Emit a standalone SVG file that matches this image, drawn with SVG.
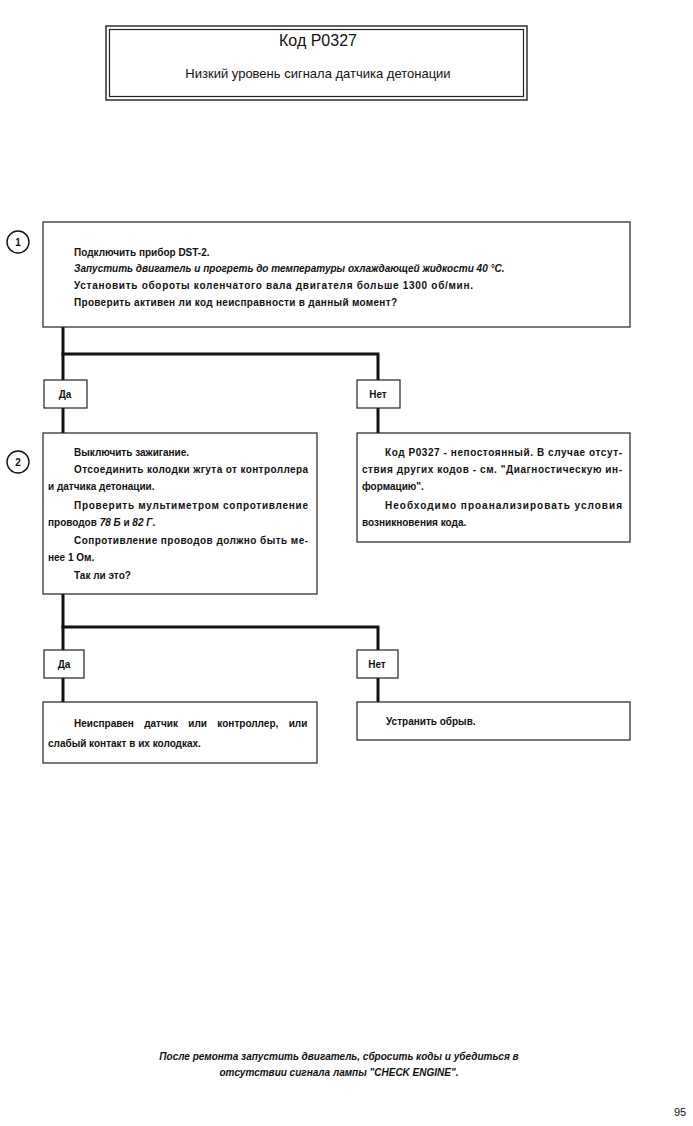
<svg xmlns="http://www.w3.org/2000/svg" width="693" height="1126" viewBox="0 0 693 1126">
<style>
.box{fill:#fff;stroke:#222;stroke-width:1.2}
.lbl{fill:#fff;stroke:#222;stroke-width:1.2}
.t{font-family:"Liberation Sans",Arial,sans-serif;font-size:10px;font-weight:bold;fill:#111}
.i{font-style:italic}
.c{text-anchor:middle}
.con{fill:none;stroke:#111;stroke-width:3;stroke-linecap:square}
.num{fill:#fff;stroke:#111;stroke-width:1.4}
</style>
<rect width="693" height="1126" fill="#fff"/>

<g id="title">
<rect x="106" y="26" width="421" height="74" fill="none" stroke="#222" stroke-width="1.4"/>
<rect x="109.5" y="29.5" width="414" height="67" fill="none" stroke="#222" stroke-width="1.2"/>
<text x="318" y="46" class="c" font-family="Liberation Sans,Arial,sans-serif" font-size="16" fill="#111">Код P0327</text>
<text x="318" y="78" class="c" font-family="Liberation Sans,Arial,sans-serif" font-size="13" fill="#111">Низкий уровень сигнала датчика детонации</text>
</g>

<g id="connectors">
<polyline class="con" points="63,328 63,380"/>
<polyline class="con" points="63,354 378,354 378,380"/>
<polyline class="con" points="63,408 63,433"/>
<polyline class="con" points="378,408 378,433"/>
<polyline class="con" points="63,595 63,650"/>
<polyline class="con" points="63,627 378,627 378,650"/>
<polyline class="con" points="63,678 63,702"/>
<polyline class="con" points="378,678 378,702"/>
</g>

<g id="step1">
<circle class="num" cx="18" cy="242" r="11"/>
<text x="18" y="246" class="t c">1</text>
</g>
<g id="box1">
<rect class="box" x="43" y="222" width="587" height="105"/>
<text x="74" y="256" class="t">Подключить прибор DST-2.</text>
<text x="74" y="272" class="t i">Запустить двигатель и прогреть до температуры охлаждающей жидкости 40 °C.</text>
<text x="74" y="289" class="t" textLength="399" lengthAdjust="spacing">Установить обороты коленчатого вала двигателя больше 1300 об/мин.</text>
<text x="74" y="306" class="t" textLength="323" lengthAdjust="spacing">Проверить активен ли код неисправности в данный момент?</text>
</g>

<g id="yes1">
<rect class="lbl" x="44" y="380" width="43" height="28"/>
<text x="65" y="398" class="t c">Да</text>
</g>
<g id="no1">
<rect class="lbl" x="357" y="380" width="43" height="28"/>
<text x="378" y="398" class="t c">Нет</text>
</g>

<g id="step2">
<circle class="num" cx="18" cy="462" r="11"/>
<text x="18" y="466" class="t c">2</text>
</g>
<g id="box2">
<rect class="box" x="43" y="433" width="274" height="161"/>
<text x="74" y="456" class="t">Выключить зажигание.</text>
<text x="74" y="473" class="t" textLength="234" lengthAdjust="spacing">Отсоединить колодки жгута от контроллера</text>
<text x="48" y="490" class="t">и датчика детонации.</text>
<text x="74" y="509" class="t" textLength="234" lengthAdjust="spacing">Проверить мультиметром сопротивление</text>
<text x="48" y="526" class="t">проводов <tspan class="i">78 Б</tspan> и <tspan class="i">82 Г</tspan>.</text>
<text x="74" y="544" class="t" textLength="234" lengthAdjust="spacing">Сопротивление проводов должно быть ме-</text>
<text x="48" y="561" class="t">нее 1 Ом.</text>
<text x="74" y="579" class="t">Так ли это?</text>
</g>

<g id="box3">
<rect class="box" x="357" y="433" width="273" height="109"/>
<text x="385" y="456" class="t" textLength="237" lengthAdjust="spacing">Код Р0327 - непостоянный. В случае отсут-</text>
<text x="362" y="473" class="t" textLength="260" lengthAdjust="spacing">ствия других кодов - см. "Диагностическую ин-</text>
<text x="362" y="490" class="t">формацию".</text>
<text x="385" y="509" class="t" textLength="237" lengthAdjust="spacing">Необходимо проанализировать условия</text>
<text x="362" y="526" class="t">возникновения кода.</text>
</g>

<g id="yes2">
<rect class="lbl" x="44" y="650" width="40" height="28"/>
<text x="64" y="668" class="t c">Да</text>
</g>
<g id="no2">
<rect class="lbl" x="357" y="650" width="41" height="28"/>
<text x="377" y="668" class="t c">Нет</text>
</g>

<g id="box4">
<rect class="box" x="43" y="702" width="274" height="61"/>
<text x="74" y="727" class="t" word-spacing="7.6">Неисправен датчик или контроллер, или</text>
<text x="48" y="747" class="t">слабый контакт в их колодках.</text>
</g>

<g id="box5">
<rect class="box" x="357" y="702" width="273" height="38"/>
<text x="386" y="725" class="t">Устранить обрыв.</text>
</g>

<g id="footer">
<text x="339" y="1060" class="t i c">После ремонта запустить двигатель, сбросить коды и убедиться в</text>
<text x="339" y="1076" class="t i c">отсутствии сигнала лампы "CHECK ENGINE".</text>
<text x="680" y="1116" class="c" font-family="Liberation Sans,Arial,sans-serif" font-size="11" fill="#111">95</text>
</g>
</svg>
